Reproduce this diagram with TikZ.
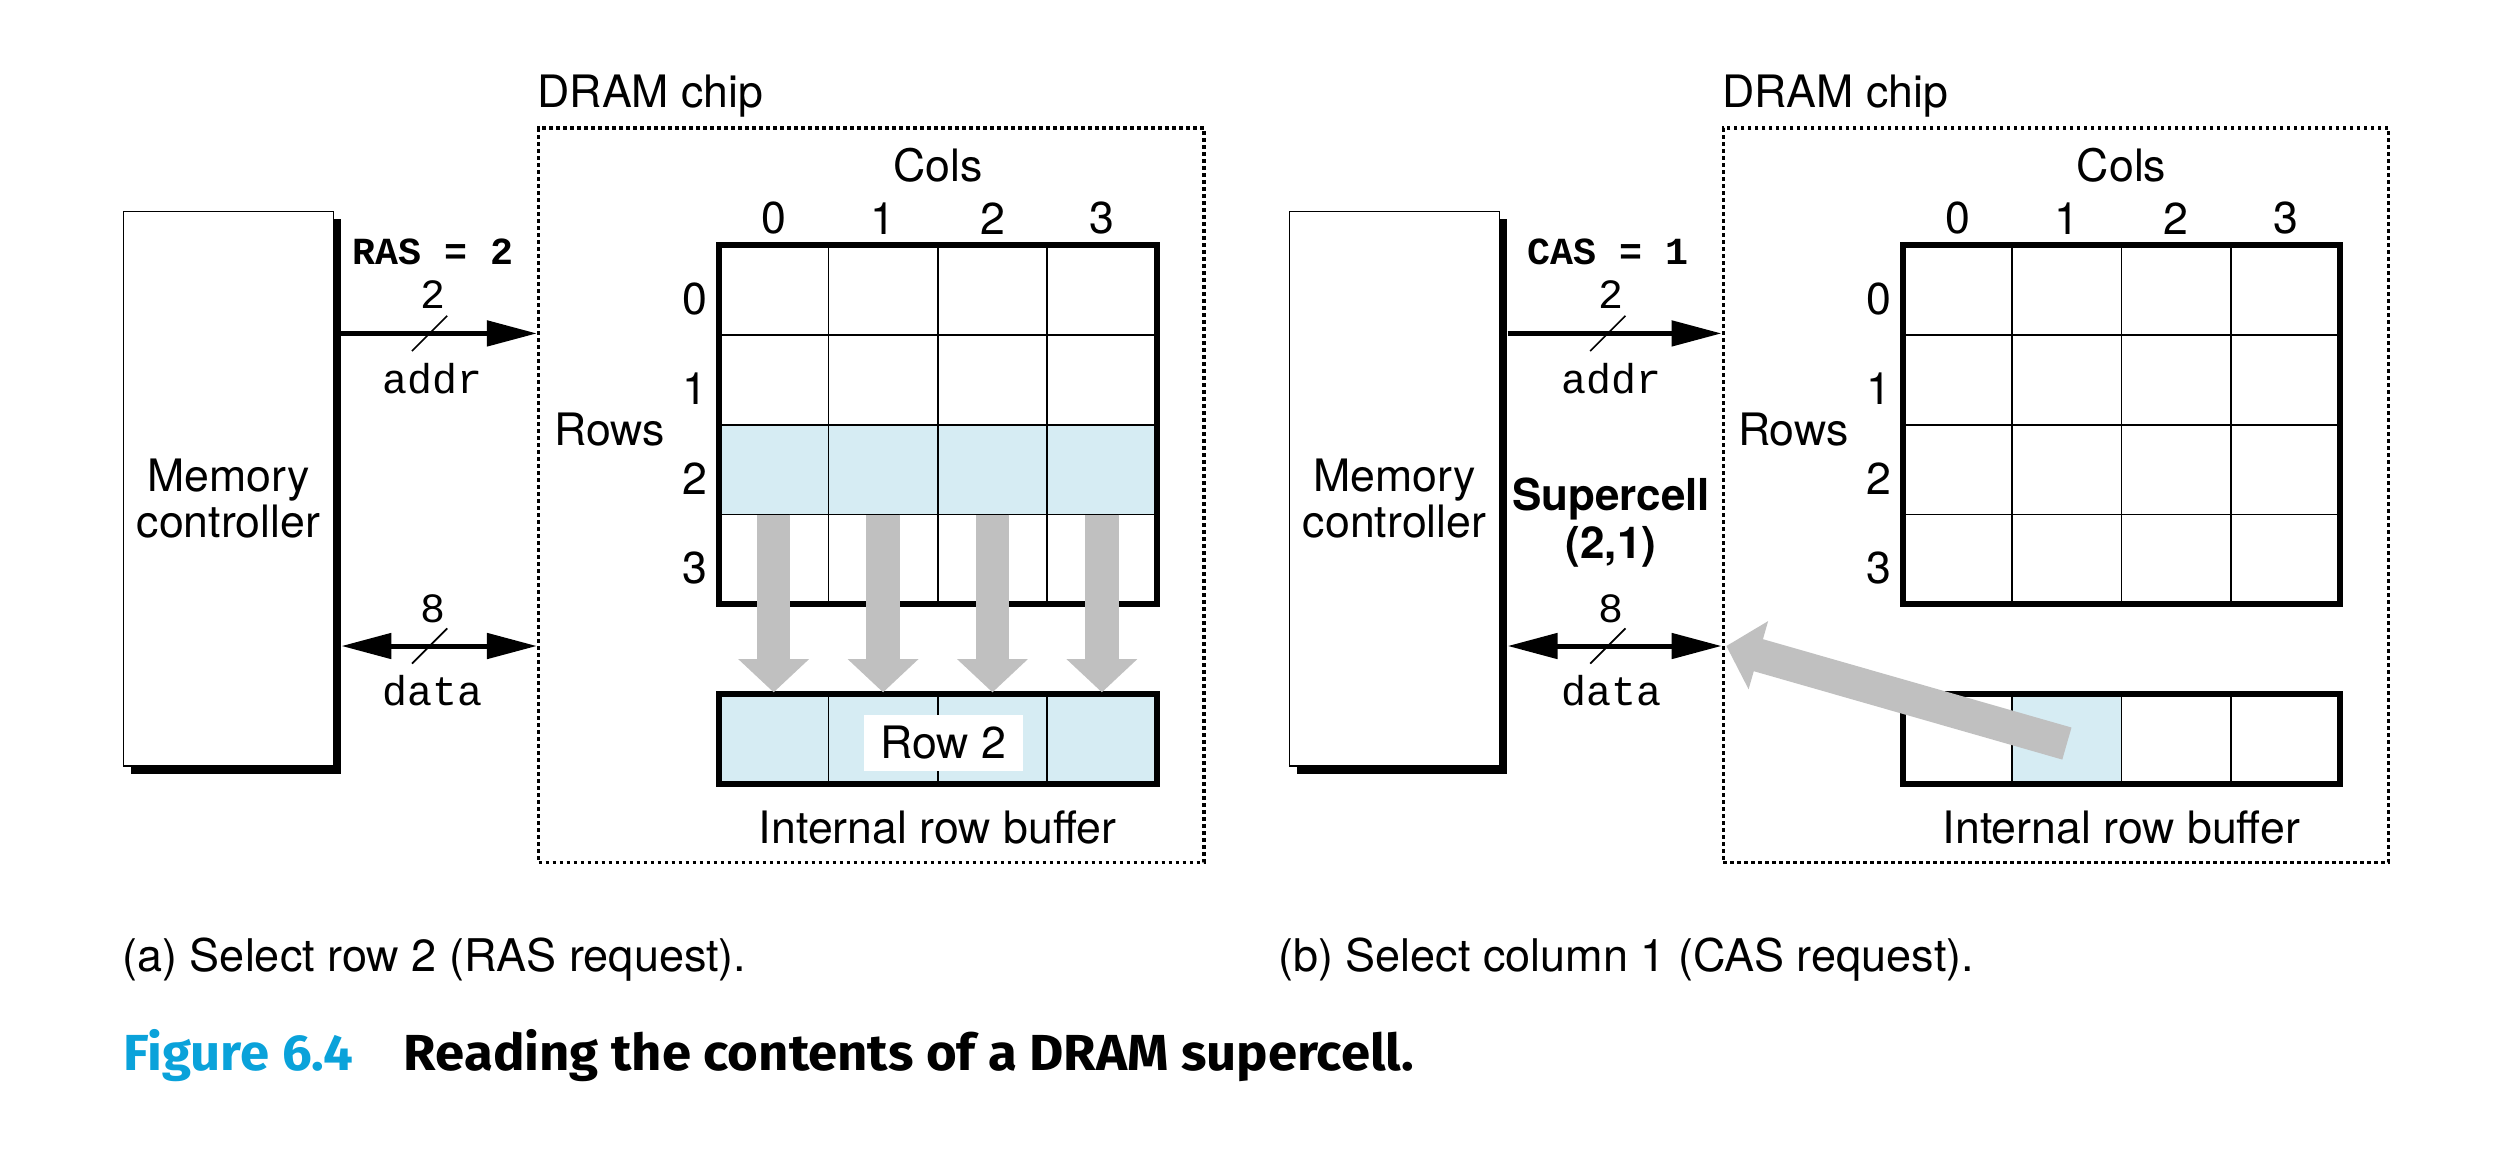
\documentclass[tikz,border=0pt]{standalone}
\usepackage{fontspec}
\setmainfont{TeX Gyre Heros}
\setmonofont{Liberation Mono}
\newfontfamily\capfont[FakeStretch=1.04]{Fira Sans}
\usetikzlibrary{arrows.meta, positioning, calc, shadows}
\definecolor{cellblue}{HTML}{D6ECF3}
\definecolor{arrowgray}{HTML}{C0C0C0}
\definecolor{figblue}{HTML}{0AA2DA}
\tikzset{
  lbl/.style={font=\fontsize{13.4}{14}\selectfont, inner sep=0pt},
  monolbl/.style={font=\ttfamily\fontsize{12.5}{14}\selectfont, inner sep=0pt},
  reqlbl/.style={font=\ttfamily\bfseries\fontsize{11.5}{14}\selectfont, inner sep=0pt},
  membox/.style={draw, line width=0.5pt, fill=white, minimum width=63pt, minimum height=166.4pt,
    drop shadow={shadow xshift=2.2pt, shadow yshift=-2.2pt, opacity=1, fill=black}},
  chipbox/.style={draw, line width=1.05pt, dash pattern=on 1.05pt off 1.05pt, inner sep=0pt,
    minimum width=199.6pt, minimum height=220.3pt},
  bus/.style={line width=1.5pt, -{Triangle[length=15pt, width=7.5pt]}},
  busboth/.style={line width=1.5pt, {Triangle[length=15pt, width=7.5pt]}-{Triangle[length=15pt, width=7.5pt]}},
  buswidth/.style={line width=0.5pt},
  cellline/.style={line width=0.5pt},
  cellborder/.style={line width=1.8pt},
  grayarrow/.style={draw=arrowgray, line width=10pt, -{Triangle[length=10pt, width=20.7pt]}},
}

\begin{document}
\begin{tikzpicture}[x=0.481pt, y=-0.481pt]
\useasboundingbox (0,0) rectangle (1568.3,717.4);

% (a) RAS request
\node[membox] (mcA) at (142.5,305) {};
\node[lbl, align=center] (mcAtext) at ($(mcA)+(0,6)$) {Memory\\controller};
\node[chipbox] (chipA) at (543.5,309) {};
\node[lbl, anchor=base west] (chipAtitle) at ($(chipA.north west)+(0,-12)$) {DRAM chip};

\path (mcA.east) ++(4.5,-97) coordinate (addrA0);
\path (mcA.east) ++(4.5,98) coordinate (dataA0);
\coordinate (addrA1) at (addrA0 -| chipA.west);
\coordinate (dataA1) at (dataA0 -| chipA.west);
\draw[bus] (addrA0) -- (addrA1);
\draw[busboth] (dataA0) -- (dataA1);
\coordinate (addrAmid) at (268,208);
\coordinate (dataAmid) at (268,403);
\draw[buswidth] ($(addrAmid)+(-11,11)$) -- ++(22,-22);
\draw[buswidth] ($(dataAmid)+(-11,11)$) -- ++(22,-22);
\node[reqlbl] (rasA) at (270,157) {RAS = 2};
\node[monolbl] (addrAw) at (270,184) {2};
\node[monolbl] (addrAname) at (270,236) {addr};
\node[monolbl] (dataAw) at (270,380) {8};
\node[monolbl] (dataAname) at (270,431) {data};

\begin{scope}[shift={(448.5,153)}, x=32.83pt, y=-26.94pt]
  \fill[cellblue] (0,2) rectangle (4,3);
  \fill[cellblue] (0,5) rectangle (4,6);
  \foreach \i in {1,2,3} {
    \draw[cellline] (\i,0) -- (\i,4);
    \draw[cellline] (0,\i) -- (4,\i);
    \draw[cellline] (\i,5) -- (\i,6);
  }
  \draw[cellborder] (0,0) rectangle (4,4);
  \draw[cellborder] (0,5) rectangle (4,6);
  \foreach \i in {0,...,3} {
    \node[lbl] (colA\i) at (\i+0.5,-0.3) {\i};
    \node[lbl] (rowA\i) at (-0.22,\i+0.6) {\i};
  }
  \node[lbl] (colsA) at (2,-0.89) {Cols};
  \node[lbl] (rowsA) at (-1,2.05) {Rows};
  \node[lbl] (bufA) at (2,6.48) {Internal row buffer};
  % row 2 copied into the buffer
  \foreach \i in {0,...,3}
    \draw[grayarrow] (\i+0.5,3) -- (\i+0.5,4.98);
  \node[lbl, fill=white, inner xsep=5pt, inner ysep=3.6pt, text height=9.6pt, text depth=0pt] (row2A) at (2.05,5.54) {Row 2};
\end{scope}

% (b) CAS request
\node[membox] (mcB) at (870,305) {};
\node[lbl, align=center] (mcBtext) at ($(mcB)+(0,6)$) {Memory\\controller};
\node[chipbox] (chipB) at (1282.5,309) {};
\node[lbl, anchor=base west] (chipBtitle) at ($(chipB.north west)+(0,-12)$) {DRAM chip};

\path (mcB.east) ++(4.5,-97) coordinate (addrB0);
\path (mcB.east) ++(4.5,98) coordinate (dataB0);
\coordinate (addrB1) at (addrB0 -| chipB.west);
\coordinate (dataB1) at (dataB0 -| chipB.west);
\draw[bus] (addrB0) -- (addrB1);
\draw[busboth] (dataB0) -- (dataB1);
\coordinate (addrBmid) at (1003,208);
\coordinate (dataBmid) at (1003,403);
\draw[buswidth] ($(addrBmid)+(-11,11)$) -- ++(22,-22);
\draw[buswidth] ($(dataBmid)+(-11,11)$) -- ++(22,-22);
\node[reqlbl] (casB) at (1003,157) {CAS = 1};
\node[monolbl] (addrBw) at (1005,184) {2};
\node[monolbl] (addrBname) at (1005,236) {addr};
\node[monolbl] (dataBw) at (1005,380) {8};
\node[monolbl] (dataBname) at (1005,431) {data};
\node[lbl, font=\bfseries\fontsize{13.2}{14.4}\selectfont, align=center] (superB) at (1005,326) {Supercell\\(2,1)};

\begin{scope}[shift={(1187,153)}, x=32.83pt, y=-26.94pt]
  \fill[cellblue] (1,5) rectangle (2,6);
  \foreach \i in {1,2,3} {
    \draw[cellline] (\i,0) -- (\i,4);
    \draw[cellline] (0,\i) -- (4,\i);
    \draw[cellline] (\i,5) -- (\i,6);
  }
  \draw[cellborder] (0,0) rectangle (4,4);
  \draw[cellborder] (0,5) rectangle (4,6);
  \foreach \i in {0,...,3} {
    \node[lbl] (colB\i) at (\i+0.5,-0.3) {\i};
    \node[lbl] (rowB\i) at (-0.22,\i+0.6) {\i};
  }
  \node[lbl] (colsB) at (2,-0.89) {Cols};
  \node[lbl] (rowsB) at (-1,2.05) {Rows};
  \node[lbl] (bufB) at (2,6.48) {Internal row buffer};
  \coordinate (cellB1) at (1.5,5.55);
\end{scope}
% supercell (2,1) goes out on the data lines
\draw[grayarrow] (cellB1) -- ($(dataB1)+(3,0)$);

% captions
\node[lbl, font=\fontsize{13.5}{15}\selectfont, anchor=base west] (capA) at (76,606) {(a) Select row 2 (RAS request).};
\node[lbl, font=\fontsize{13.5}{15}\selectfont, anchor=base west] (capB) at (797,606) {(b) Select column 1 (CAS request).};
\node[inner sep=0pt, font=\capfont\bfseries\fontsize{15.2}{17}\selectfont, text=figblue, anchor=base west] (figno) at (76.5,668) {Figure 6.4};
\node[inner sep=0pt, font=\capfont\bfseries\fontsize{15.2}{17}\selectfont, anchor=base west] (figtitle) at (251.5,668) {Reading the contents of a DRAM supercell.};
\end{tikzpicture}
\end{document}
